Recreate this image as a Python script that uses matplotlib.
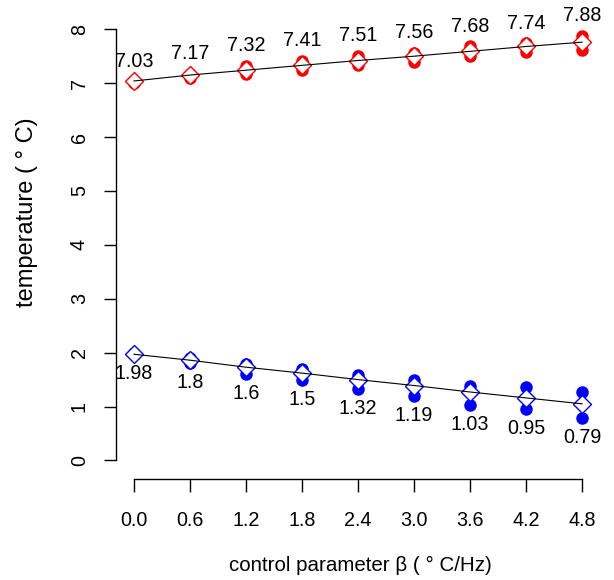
import numpy as np
import matplotlib as mpl
import matplotlib.pyplot as plt

mpl.rcParams['font.family'] = ['Liberation Sans', 'DejaVu Sans']

# control parameter values
beta = [0.0, 0.6, 1.2, 1.8, 2.4, 3.0, 3.6, 4.2, 4.8]

# red series (upper temperature)
red_high = [7.03, 7.17, 7.32, 7.41, 7.51, 7.56, 7.68, 7.74, 7.88]
red_low = [7.00, 7.10, 7.17, 7.25, 7.34, 7.40, 7.50, 7.58, 7.61]
red_fit = [7.04, 7.15, 7.24, 7.33, 7.42, 7.50, 7.59, 7.68, 7.76]

# blue series (lower temperature)
blue_high = [1.99, 1.90, 1.78, 1.70, 1.58, 1.50, 1.39, 1.36, 1.27]
blue_low = [1.98, 1.80, 1.60, 1.50, 1.32, 1.19, 1.03, 0.95, 0.79]
blue_fit = [1.97, 1.86, 1.73, 1.62, 1.50, 1.39, 1.27, 1.16, 1.05]

xticks = [0.0, 0.6, 1.2, 1.8, 2.4, 3.0, 3.6, 4.2, 4.8]
yticks = [0, 1, 2, 3, 4, 5, 6, 7, 8]

W, H = 614, 580
fig = plt.figure(figsize=(W / 100, H / 100), dpi=100)
ax = fig.add_axes([116 / W, 1 - 479.3 / H, (600 - 116) / W, (479.3 - 12) / H])

fs = 14.2

for hi, lo, fit, col, above in [(red_high, red_low, red_fit, '#FF0000', True),
                                (blue_high, blue_low, blue_fit, '#0000FF', False)]:
    ax.plot(beta, hi, 'o', color=col, ms=8, mec=col, zorder=2)
    ax.plot(beta, lo, 'o', color=col, ms=8, mec=col, zorder=2)
    ax.plot(beta, fit, 'D', mfc='white', mec=col, ms=9.2, mew=1.0, ls='none', zorder=3)
    ax.plot(beta, fit, '-', color='black', lw=0.8, zorder=4)
    labels = hi if above else lo
    for x, v in zip(beta, labels):
        ax.annotate(f"{v:g}", (x, v), xytext=(0, 14.5 if above else -14),
                    textcoords='offset points', ha='center', va='center', fontsize=fs)

ax.set_xlim(-0.192, 4.992)
ax.set_ylim(-0.35, 8.32)

for s in ['top', 'right']:
    ax.spines[s].set_visible(False)
ax.spines['left'].set_bounds(0, 8)
ax.spines['bottom'].set_bounds(0, 4.8)
ax.spines['left'].set_linewidth(1.0)
ax.spines['bottom'].set_linewidth(1.0)

ax.set_xticks(xticks)
ax.set_xticklabels([f"{t:.1f}" for t in xticks])
ax.set_yticks(yticks)
ax.set_yticklabels([str(t) for t in yticks], rotation=90, va='center')
ax.tick_params(axis='both', length=9, width=1.0, labelsize=fs)
ax.tick_params(axis='x', pad=14)
ax.tick_params(axis='y', pad=10.5)

fig.text(27 / W, 1 - 212 / H, "temperature ( \u00b0 C)", rotation=90,
         ha='center', va='center', fontsize=17)
fig.text(360 / W, 1 - 565 / H, "control parameter \u03b2 ( \u00b0 C/Hz)",
         ha='center', va='center', fontsize=14.8)

fig.savefig('out.png', dpi=100)
